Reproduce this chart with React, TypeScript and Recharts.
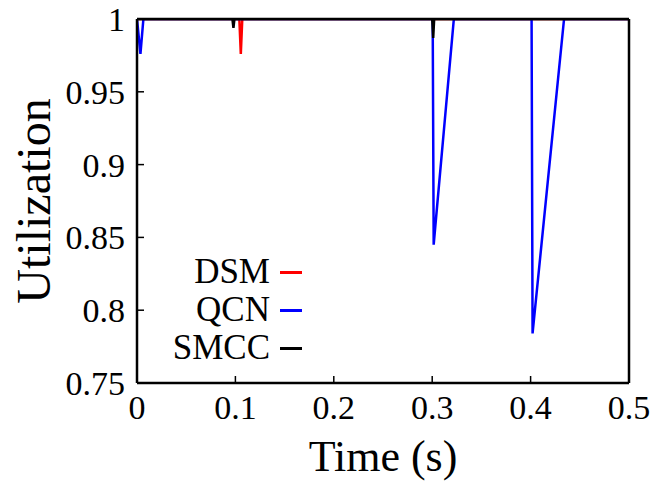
import React from 'react';
import { LineChart, Line, XAxis, YAxis } from 'recharts';

const xTicks = [0, 0.1, 0.2, 0.3, 0.4, 0.5];
const yTicks = [0.75, 0.8, 0.85, 0.9, 0.95, 1];

const dsmT = [0, 0.104, 0.1055, 0.107, 0.5];
const dsmV = [1, 1, 0.976, 1, 1];

const qcnT = [0, 0.0035, 0.0065, 0.3005, 0.3015, 0.322, 0.401, 0.402, 0.434, 0.5];
const qcnV = [1, 0.976, 1, 1, 0.845, 1, 1, 0.784, 1, 1];

const smccT = [0, 0.097, 0.098, 0.099, 0.3, 0.301, 0.302, 0.5];
const smccV = [1, 1, 0.994, 1, 1, 0.987, 1, 1];

const seriesNames = ['DSM', 'QCN', 'SMCC'];
const seriesColors = ['#ff0000', '#0000ff', '#000000'];

const zip = (t: number[], v: number[]) => t.map((x, i) => ({ t: x, v: v[i] }));
const dsm = zip(dsmT, dsmV);
const qcn = zip(qcnT, qcnV);
const smcc = zip(smccT, smccV);

const FONT = "'Liberation Serif', 'Times New Roman', serif";

const LegendBox = () => (
  <div style={{ position: 'absolute', left: 142, top: 253, width: 160, fontFamily: FONT }}>
    {seriesNames.map((n, i) => (
      <div key={n} style={{ display: 'flex', justifyContent: 'flex-end', alignItems: 'center', height: 38 }}>
        <span style={{ fontSize: 35, lineHeight: '38px', color: '#000' }}>{n}</span>
        <span style={{ display: 'inline-block', width: 22, height: 3, background: seriesColors[i], marginLeft: 10 }} />
      </div>
    ))}
  </div>
);

const YLabel = (props: any) => {
  const vb = props.viewBox || {};
  const cy = vb.y + vb.height / 2;
  return (
    <text x={0} y={0} transform={`translate(${50}, ${cy}) rotate(-90)`} textAnchor="middle" fontFamily={FONT} fontSize={48} fill="#000">
      Utilization
    </text>
  );
};

export default function App() {
  return (
    <div style={{ position: 'absolute', left: 0, top: 0, width: 663, height: 484, background: '#fff' }}>
      <LineChart width={663} height={484} margin={{ top: 0, right: 0, left: 0, bottom: 0 }}>
        <XAxis
          xAxisId={0}
          type="number"
          dataKey="t"
          domain={[0, 0.5]}
          ticks={xTicks}
          allowDataOverflow
          height={101}
          tickSize={-7}
          tickMargin={19}
          axisLine={{ stroke: '#000', strokeWidth: 2.5 }}
          tickLine={{ stroke: '#000', strokeWidth: 1.5 }}
          tick={{ fill: '#000', fontSize: 34, fontFamily: FONT }}
          tickFormatter={(v: number) => String(v)}
          label={{ value: 'Time (s)', position: 'insideBottom', offset: 13, fill: '#000', fontSize: 44, fontFamily: FONT }}
        />
        <XAxis
          xAxisId="top"
          orientation="top"
          type="number"
          domain={[0, 0.5]}
          ticks={xTicks}
          height={19}
          tick={false}
          tickSize={-7}
          axisLine={{ stroke: '#000', strokeWidth: 2.5 }}
          tickLine={{ stroke: '#000', strokeWidth: 1.5 }}
        />
        <YAxis
          yAxisId={0}
          type="number"
          domain={[0.75, 1]}
          ticks={yTicks}
          allowDataOverflow
          width={137}
          tickSize={-7}
          tickMargin={19}
          axisLine={{ stroke: '#000', strokeWidth: 2.5 }}
          tickLine={{ stroke: '#000', strokeWidth: 1.5 }}
          tick={{ fill: '#000', fontSize: 34, fontFamily: FONT }}
          tickFormatter={(v: number) => String(v)}
          label={<YLabel />}
        />
        <YAxis
          yAxisId="right"
          orientation="right"
          type="number"
          domain={[0.75, 1]}
          ticks={yTicks}
          width={34}
          tick={false}
          tickSize={-7}
          axisLine={{ stroke: '#000', strokeWidth: 2.5 }}
          tickLine={{ stroke: '#000', strokeWidth: 1.5 }}
        />
        <Line data={dsm} dataKey="v" name="DSM" stroke={seriesColors[0]} strokeWidth={2.5} dot={false} isAnimationActive={false} />
        <Line data={qcn} dataKey="v" name="QCN" stroke={seriesColors[1]} strokeWidth={2.5} dot={false} isAnimationActive={false} />
        <Line data={smcc} dataKey="v" name="SMCC" stroke={seriesColors[2]} strokeWidth={2.5} dot={false} isAnimationActive={false} />
      </LineChart>
      <LegendBox />
    </div>
  );
}
